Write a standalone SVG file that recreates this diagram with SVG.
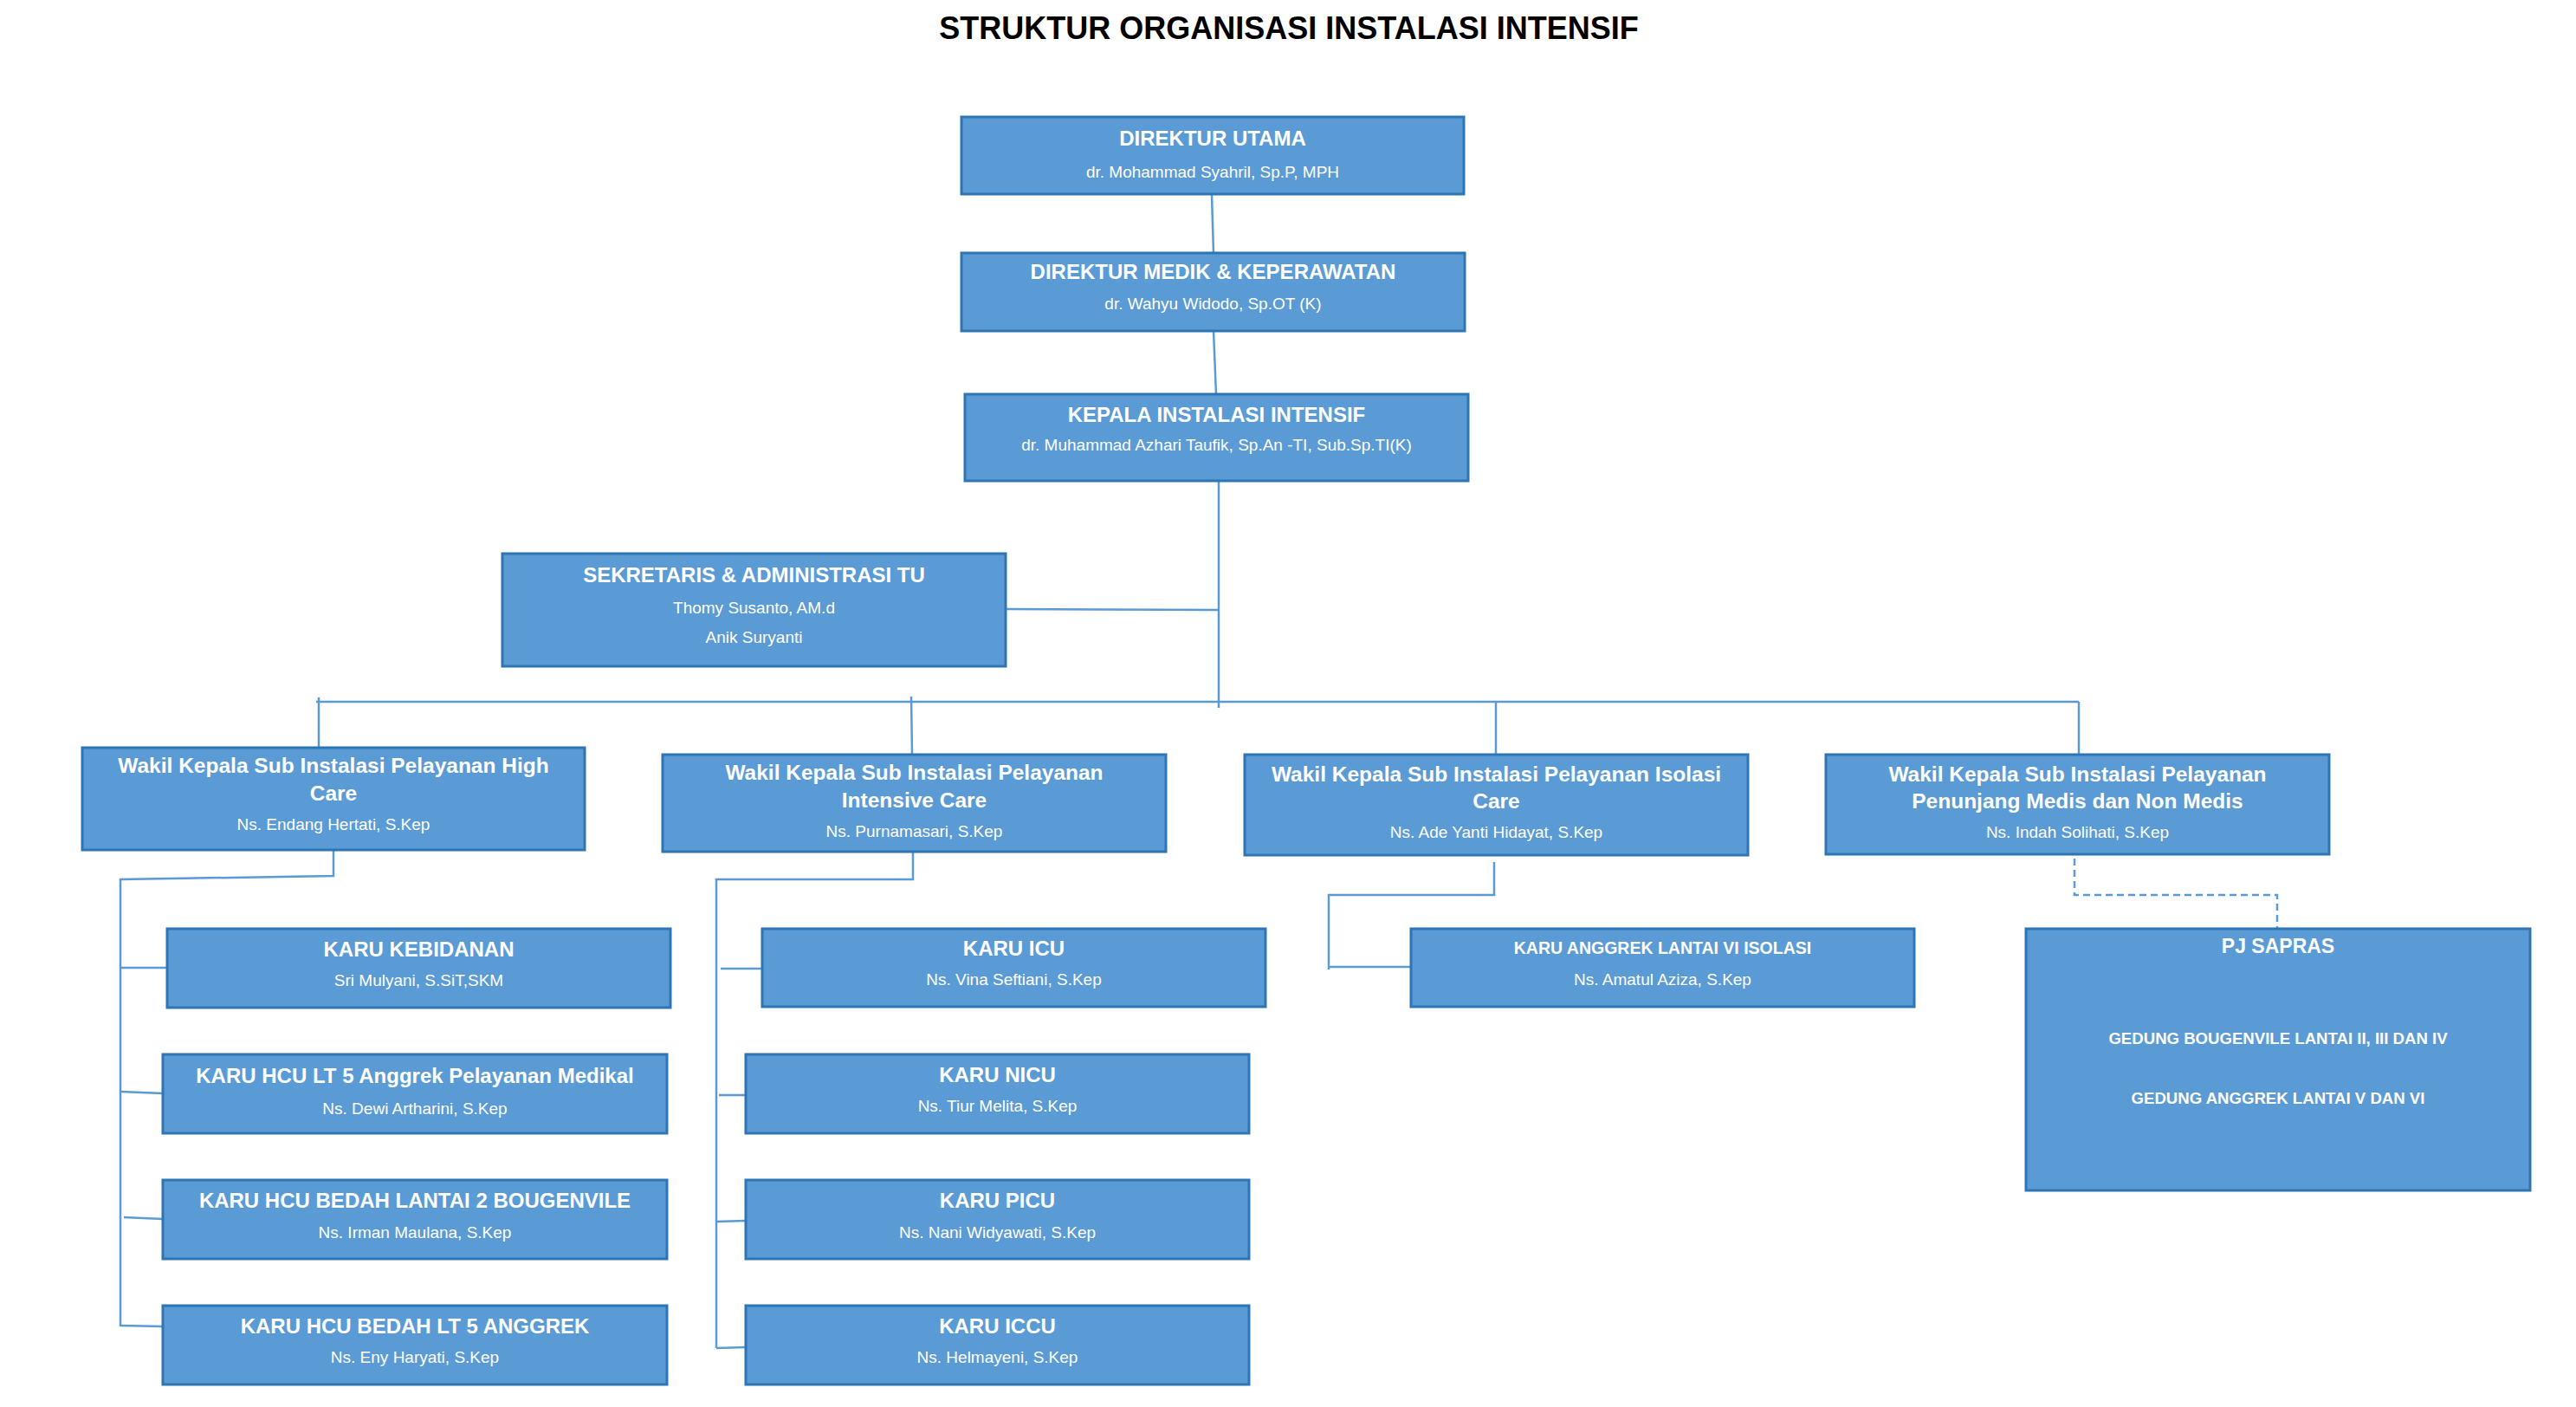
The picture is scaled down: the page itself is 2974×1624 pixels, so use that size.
<svg xmlns="http://www.w3.org/2000/svg" width="2974" height="1624" viewBox="0 0 2974 1624">
<style>
.box{fill:#5B9BD5;stroke:#2E75B6;stroke-width:3}
text{font-family:"Liberation Sans",Arial,sans-serif;fill:#fff;text-anchor:middle}
.h{font-weight:bold;font-size:24px}
.hw{font-weight:bold;font-size:24.5px}
.hs{font-weight:bold;font-size:19.5px}
.hg{font-weight:bold;font-size:18.6px}
.n{font-size:19px}
.title{font-weight:bold;font-size:36px;fill:#000}
.c{fill:none;stroke:#5B9BD5;stroke-width:2.5}
.d{fill:none;stroke:#5B9BD5;stroke-width:2.5;stroke-dasharray:8 5}
</style>
<rect width="2974" height="1624" fill="#fff"/>
<text class="title" x="1488" y="45">STRUKTUR ORGANISASI INSTALASI INTENSIF</text>
<g id="connectors">
<path class="c" d="M1399 224 L1401 292"/>
<path class="c" d="M1401 382 L1404 455"/>
<path class="c" d="M1407 555 L1407 817"/>
<path class="c" d="M1161 703 L1407 704"/>
<path class="c" d="M365 810 L2400 810"/>
<path class="c" d="M368 805 L368 863"/>
<path class="c" d="M1052 804 L1053 871"/>
<path class="c" d="M1727 810 L1727 871"/>
<path class="c" d="M2400 810 L2400 871"/>
<path class="c" d="M385 981 L385 1011 L139 1015 L139 1531"/>
<path class="c" d="M139 1117 L193 1117"/>
<path class="c" d="M139 1260 L188 1262"/>
<path class="c" d="M143 1405 L188 1407"/>
<path class="c" d="M139 1530 L188 1531"/>
<path class="c" d="M1054 983 L1054 1015 L827 1015 L827 1556"/>
<path class="c" d="M832 1118 L880 1118"/>
<path class="c" d="M830 1264 L861 1264"/>
<path class="c" d="M827 1410 L861 1409"/>
<path class="c" d="M827 1556 L861 1555"/>
<path class="c" d="M1725 995 L1725 1033 L1534 1033 L1534 1119"/>
<path class="c" d="M1534 1116 L1629 1116"/>
<path class="d" d="M2395 991 L2395 1033 L2629 1033 L2629 1072"/>
</g>
<g id="direktur-utama">
<rect class="box" x="1110" y="135" width="580" height="89"/>
<text class="h" x="1400" y="168">DIREKTUR UTAMA</text>
<text class="n" x="1400" y="205">dr. Mohammad Syahril, Sp.P, MPH</text>
</g>
<g id="direktur-medik">
<rect class="box" x="1110" y="292" width="581" height="90"/>
<text class="h" x="1400.5" y="322">DIREKTUR MEDIK &amp; KEPERAWATAN</text>
<text class="n" x="1400.5" y="357">dr. Wahyu Widodo, Sp.OT (K)</text>
</g>
<g id="kepala-instalasi">
<rect class="box" x="1114" y="455" width="581" height="100"/>
<text class="h" x="1404.5" y="487">KEPALA INSTALASI INTENSIF</text>
<text class="n" x="1404.5" y="520">dr. Muhammad Azhari Taufik, Sp.An -TI, Sub.Sp.TI(K)</text>
</g>
<g id="sekretaris">
<rect class="box" x="580" y="639" width="581" height="130"/>
<text class="h" x="870.5" y="672">SEKRETARIS &amp; ADMINISTRASI TU</text>
<text class="n" x="870.5" y="708">Thomy Susanto, AM.d</text>
<text class="n" x="870.5" y="742">Anik Suryanti</text>
</g>
<g id="wakil-high-care">
<rect class="box" x="95" y="863" width="580" height="118"/>
<text class="hw" x="385" y="892">Wakil Kepala Sub Instalasi Pelayanan High</text>
<text class="hw" x="385" y="924">Care</text>
<text class="n" x="385" y="958">Ns. Endang Hertati, S.Kep</text>
</g>
<g id="wakil-intensive-care">
<rect class="box" x="765" y="871" width="581" height="112"/>
<text class="hw" x="1055.5" y="900">Wakil Kepala Sub Instalasi Pelayanan</text>
<text class="hw" x="1055.5" y="932">Intensive Care</text>
<text class="n" x="1055.5" y="966">Ns. Purnamasari, S.Kep</text>
</g>
<g id="wakil-isolasi-care">
<rect class="box" x="1437" y="871" width="581" height="116"/>
<text class="hw" x="1727.5" y="902">Wakil Kepala Sub Instalasi Pelayanan Isolasi</text>
<text class="hw" x="1727.5" y="933">Care</text>
<text class="n" x="1727.5" y="967">Ns. Ade Yanti Hidayat, S.Kep</text>
</g>
<g id="wakil-penunjang">
<rect class="box" x="2108" y="871" width="581" height="115"/>
<text class="hw" x="2398.5" y="902">Wakil Kepala Sub Instalasi Pelayanan</text>
<text class="hw" x="2398.5" y="933">Penunjang Medis dan Non Medis</text>
<text class="n" x="2398.5" y="967">Ns. Indah Solihati, S.Kep</text>
</g>
<g id="karu-kebidanan">
<rect class="box" x="193" y="1072" width="581" height="91"/>
<text class="h" x="483.5" y="1104">KARU KEBIDANAN</text>
<text class="n" x="483.5" y="1138">Sri Mulyani, S.SiT,SKM</text>
</g>
<g id="karu-hcu-lt5-medikal">
<rect class="box" x="188" y="1217" width="582" height="91"/>
<text class="h" x="479" y="1250">KARU HCU LT 5 Anggrek Pelayanan Medikal</text>
<text class="n" x="479" y="1286">Ns. Dewi Artharini, S.Kep</text>
</g>
<g id="karu-hcu-bedah-lt2">
<rect class="box" x="188" y="1362" width="582" height="91"/>
<text class="h" x="479" y="1394">KARU HCU BEDAH LANTAI 2 BOUGENVILE</text>
<text class="n" x="479" y="1429">Ns. Irman Maulana, S.Kep</text>
</g>
<g id="karu-hcu-bedah-lt5">
<rect class="box" x="188" y="1507" width="582" height="91"/>
<text class="h" x="479" y="1539">KARU HCU BEDAH LT 5 ANGGREK</text>
<text class="n" x="479" y="1573">Ns. Eny Haryati, S.Kep</text>
</g>
<g id="karu-icu">
<rect class="box" x="880" y="1072" width="581" height="90"/>
<text class="h" x="1170.5" y="1103">KARU ICU</text>
<text class="n" x="1170.5" y="1137">Ns. Vina Seftiani, S.Kep</text>
</g>
<g id="karu-nicu">
<rect class="box" x="861" y="1217" width="581" height="91"/>
<text class="h" x="1151.5" y="1249">KARU NICU</text>
<text class="n" x="1151.5" y="1283">Ns. Tiur Melita, S.Kep</text>
</g>
<g id="karu-picu">
<rect class="box" x="861" y="1362" width="581" height="91"/>
<text class="h" x="1151.5" y="1394">KARU PICU</text>
<text class="n" x="1151.5" y="1429">Ns. Nani Widyawati, S.Kep</text>
</g>
<g id="karu-iccu">
<rect class="box" x="861" y="1507" width="581" height="91"/>
<text class="h" x="1151.5" y="1539">KARU ICCU</text>
<text class="n" x="1151.5" y="1573">Ns. Helmayeni, S.Kep</text>
</g>
<g id="karu-anggrek-isolasi">
<rect class="box" x="1629" y="1072" width="581" height="90"/>
<text class="hs" x="1919.5" y="1101">KARU ANGGREK LANTAI VI ISOLASI</text>
<text class="n" x="1919.5" y="1137">Ns. Amatul Aziza, S.Kep</text>
</g>
<g id="pj-sapras">
<rect class="box" x="2339" y="1072" width="582" height="302"/>
<text class="h" x="2630" y="1100" style="font-size:23px">PJ SAPRAS</text>
<text class="hg" x="2630" y="1205">GEDUNG BOUGENVILE LANTAI II, III DAN IV</text>
<text class="hg" x="2630" y="1274">GEDUNG ANGGREK LANTAI V DAN VI</text>
</g>
</svg>
